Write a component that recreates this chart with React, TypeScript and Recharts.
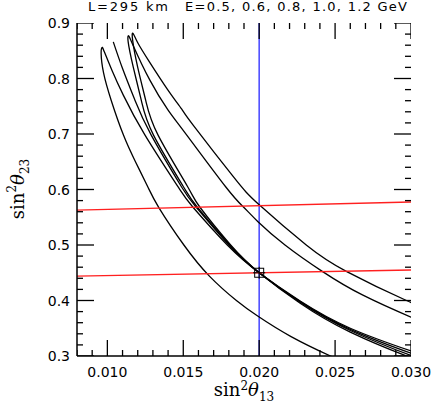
import React from "react";
import {
  ComposedChart,
  Line,
  Scatter,
  XAxis,
  YAxis,
  ReferenceLine,
  Customized,
} from "recharts";

// tick positions
const xMajor = [0.01, 0.015, 0.02, 0.025, 0.03];
const xMinor = [
  0.008, 0.009, 0.011, 0.012, 0.013, 0.014, 0.016, 0.017, 0.018, 0.019, 0.021,
  0.022, 0.023, 0.024, 0.026, 0.027, 0.028, 0.029,
];
const yMajor = [0.3, 0.4, 0.5, 0.6, 0.7, 0.8, 0.9];
const yMinor = [
  0.32, 0.34, 0.36, 0.38, 0.42, 0.44, 0.46, 0.48, 0.52, 0.54, 0.56, 0.58, 0.62,
  0.64, 0.66, 0.68, 0.72, 0.74, 0.76, 0.78, 0.82, 0.84, 0.86, 0.88,
];

// lowest energy contour: left branch up to the tip, then right branch down
const loopA = [
  { x: 0.0256, y: 0.29 },
  { x: 0.0247, y: 0.3 },
  { x: 0.0221, y: 0.335 },
  { x: 0.0199, y: 0.372 },
  { x: 0.0185, y: 0.4 },
  { x: 0.01672, y: 0.444 },
  { x: 0.01504, y: 0.5 },
  { x: 0.0134, y: 0.567 },
  { x: 0.01266, y: 0.605 },
  { x: 0.01185, y: 0.65 },
  { x: 0.01106, y: 0.698 },
  { x: 0.01026, y: 0.76 },
  { x: 0.00975, y: 0.81 },
  { x: 0.00959, y: 0.845 },
  { x: 0.00965, y: 0.856 },
  { x: 0.0098, y: 0.848 },
  { x: 0.0103, y: 0.815 },
  { x: 0.01105, y: 0.77 },
  { x: 0.01248, y: 0.698 },
  { x: 0.01465, y: 0.605 },
  { x: 0.01564, y: 0.568 },
  { x: 0.0179, y: 0.5 },
  { x: 0.02, y: 0.45 },
  { x: 0.0227, y: 0.399 },
  { x: 0.026, y: 0.35 },
  { x: 0.03, y: 0.309 },
  { x: 0.031, y: 0.3 },
];

const lineB = [
  { x: 0.01039, y: 0.866 },
  { x: 0.011, y: 0.818 },
  { x: 0.0118, y: 0.762 },
  { x: 0.01289, y: 0.698 },
  { x: 0.01488, y: 0.605 },
  { x: 0.01585, y: 0.568 },
  { x: 0.018, y: 0.5 },
  { x: 0.02, y: 0.45 },
  { x: 0.0227, y: 0.398 },
  { x: 0.026, y: 0.348 },
  { x: 0.03, y: 0.305 },
  { x: 0.031, y: 0.296 },
];

const loopC = [
  { x: 0.0311, y: 0.292 },
  { x: 0.03, y: 0.301 },
  { x: 0.026, y: 0.346 },
  { x: 0.0227, y: 0.397 },
  { x: 0.02, y: 0.45 },
  { x: 0.01806, y: 0.5 },
  { x: 0.01593, y: 0.568 },
  { x: 0.01501, y: 0.605 },
  { x: 0.01304, y: 0.698 },
  { x: 0.01224, y: 0.76 },
  { x: 0.01171, y: 0.82 },
  { x: 0.01137, y: 0.866 },
  { x: 0.0114, y: 0.877 },
  { x: 0.01169, y: 0.86 },
  { x: 0.0128, y: 0.797 },
  { x: 0.014, y: 0.743 },
  { x: 0.01523, y: 0.698 },
  { x: 0.01779, y: 0.605 },
  { x: 0.01898, y: 0.568 },
  { x: 0.01992, y: 0.542 },
  { x: 0.0217, y: 0.5 },
  { x: 0.02418, y: 0.452 },
  { x: 0.0268, y: 0.41 },
  { x: 0.03, y: 0.37 },
  { x: 0.0312, y: 0.357 },
];

const loopD = [
  { x: 0.0312, y: 0.287 },
  { x: 0.03, y: 0.297 },
  { x: 0.026, y: 0.343 },
  { x: 0.0227, y: 0.395 },
  { x: 0.02, y: 0.45 },
  { x: 0.01812, y: 0.5 },
  { x: 0.0161, y: 0.568 },
  { x: 0.01529, y: 0.605 },
  { x: 0.01334, y: 0.698 },
  { x: 0.01253, y: 0.76 },
  { x: 0.012, y: 0.82 },
  { x: 0.01166, y: 0.87 },
  { x: 0.0117, y: 0.881 },
  { x: 0.01201, y: 0.864 },
  { x: 0.01277, y: 0.83 },
  { x: 0.01397, y: 0.78 },
  { x: 0.01494, y: 0.743 },
  { x: 0.01565, y: 0.716 },
  { x: 0.01827, y: 0.624 },
  { x: 0.02002, y: 0.572 },
  { x: 0.0231, y: 0.5 },
  { x: 0.02577, y: 0.452 },
  { x: 0.0297, y: 0.4 },
  { x: 0.0312, y: 0.385 },
];

// disappearance constraint (two octants)
const redHigh = [
  { x: 0.008, y: 0.563 },
  { x: 0.03, y: 0.5775 },
];
const redLow = [
  { x: 0.008, y: 0.444 },
  { x: 0.03, y: 0.455 },
];

const truePoint = [{ x: 0.02, y: 0.45 }];

const curves = [loopA, lineB, loopC, loopD];

const X0 = 0.008;
const X1 = 0.03;
const Y0 = 0.3;
const Y1 = 0.9;

const xTicks = [...xMinor, ...xMajor].sort((a, b) => a - b);
const yTicks = [...yMinor, ...yMajor].sort((a, b) => a - b);
const isMajorX = (v: number) => Math.round(v * 1000) % 5 === 0;
const isMajorY = (v: number) => Math.round(v * 100) % 10 === 0;

// tick anchors on each side of the frame: [data, dx, dy, length]
const tickSets: [{ x: number; y: number }[], number, number, number][] = [
  [xMajor.map((v) => ({ x: v, y: Y0 })), 0, -1, 16],
  [xMinor.map((v) => ({ x: v, y: Y0 })), 0, -1, 6],
  [xMajor.map((v) => ({ x: v, y: Y1 })), 0, 1, 16],
  [xMinor.map((v) => ({ x: v, y: Y1 })), 0, 1, 6],
  [yMajor.map((v) => ({ x: X0, y: v })), 1, 0, 17],
  [yMinor.map((v) => ({ x: X0, y: v })), 1, 0, 6],
  [yMajor.map((v) => ({ x: X1, y: v })), -1, 0, 17],
  [yMinor.map((v) => ({ x: X1, y: v })), -1, 0, 6],
];

const tickShape = (dx: number, dy: number, len: number) => (props: any) => {
  const { cx, cy } = props;
  return (
    <line
      x1={cx}
      y1={cy}
      x2={cx + dx * len}
      y2={cy + dy * len}
      stroke="#000"
      strokeWidth={1.3}
    />
  );
};

function BottomLabel(props: any) {
  const { x, y, payload } = props;
  const v = payload.value;
  if (!isMajorX(v)) return <g />;
  return (
    <text x={x} y={y + 21} textAnchor="middle" fontFamily="DejaVu Sans" fontSize={14} fill="#000">
      {v.toFixed(3)}
    </text>
  );
}

function LeftLabel(props: any) {
  const { x, y, payload } = props;
  const v = payload.value;
  if (!isMajorY(v)) return <g />;
  return (
    <text x={x - 7} y={y + 5} textAnchor="end" fontFamily="DejaVu Sans" fontSize={14} fill="#000">
      {v.toFixed(1)}
    </text>
  );
}

function Marker(props: any) {
  const { cx, cy } = props;
  return (
    <g stroke="#000" strokeWidth={1} fill="none">
      <rect x={cx - 4.5} y={cy - 4.5} width={9} height={9} />
      <line x1={cx - 6} x2={cx + 6} y1={cy} y2={cy} />
      <line x1={cx} x2={cx} y1={cy - 6} y2={cy + 6} />
    </g>
  );
}

function Titles() {
  return (
    <g fill="#000">
      <text x={88} y={11} fontFamily="DejaVu Sans" fontSize={13} textLength={80} lengthAdjust="spacing">
        L=295 km
      </text>
      <text x={185} y={11} fontFamily="DejaVu Sans" fontSize={13} textLength={222} lengthAdjust="spacing">
        E=0.5, 0.6, 0.8, 1.0, 1.2 GeV
      </text>
      <text x={244} y={396} textAnchor="middle" fontFamily="DejaVu Serif" fontSize={18}>
        sin
        <tspan dy={-6} fontSize={12}>2</tspan>
        <tspan dy={6} fontStyle="italic">θ</tspan>
        <tspan dy={5} fontSize={12}>13</tspan>
      </text>
      <text
        transform="rotate(-90)"
        x={-189}
        y={24}
        textAnchor="middle"
        fontFamily="DejaVu Serif"
        fontSize={18}
      >
        sin
        <tspan dy={-8} fontSize={12}>2</tspan>
        <tspan dy={8} fontStyle="italic">θ</tspan>
        <tspan dy={5} fontSize={12}>23</tspan>
      </text>
    </g>
  );
}

export default function App() {
  return (
    <div style={{ position: "absolute", left: 0, top: 0 }}>
      <ComposedChart width={432} height={406} margin={{ top: 23, right: 21, bottom: 0, left: 0 }}>
        <ReferenceLine x={0.02} stroke="#5050ff" strokeWidth={1.6} />
        {curves.map((d, i) => (
          <Line
            key={i}
            data={d}
            dataKey="y"
            type="natural"
            stroke="#000"
            strokeWidth={1.3}
            dot={false}
            isAnimationActive={false}
          />
        ))}
        <Line data={redHigh} dataKey="y" type="linear" stroke="#ff2020" strokeWidth={1.3} dot={false} isAnimationActive={false} />
        <Line data={redLow} dataKey="y" type="linear" stroke="#ff2020" strokeWidth={1.3} dot={false} isAnimationActive={false} />
        {tickSets.map(([d, dx, dy, len], i) => (
          <Scatter key={`ticks${i}`} data={d} dataKey="y" shape={tickShape(dx, dy, len)} isAnimationActive={false} />
        ))}
        <Scatter data={truePoint} dataKey="y" shape={<Marker />} isAnimationActive={false} />
        <XAxis
          dataKey="x"
          type="number"
          domain={[X0, X1]}
          allowDataOverflow
          ticks={xTicks}
          interval={0}
          height={50}
          tick={<BottomLabel />}
          tickLine={false}
          tickSize={0}
          tickMargin={0}
          axisLine={{ stroke: "#000", strokeWidth: 1.5 }}
        />
        <XAxis
          xAxisId="top"
          orientation="top"
          type="number"
          domain={[X0, X1]}
          height={0}
          tick={false}
          tickLine={false}
          axisLine={{ stroke: "#000", strokeWidth: 1.5 }}
        />
        <YAxis
          type="number"
          domain={[Y0, Y1]}
          allowDataOverflow
          ticks={yTicks}
          interval={0}
          width={77}
          tick={<LeftLabel />}
          tickLine={false}
          tickSize={0}
          tickMargin={0}
          axisLine={{ stroke: "#000", strokeWidth: 1.5 }}
        />
        <YAxis
          yAxisId="right"
          orientation="right"
          type="number"
          domain={[Y0, Y1]}
          width={0}
          tick={false}
          tickLine={false}
          axisLine={{ stroke: "#000", strokeWidth: 1.5 }}
        />
        <Customized component={Titles} />
      </ComposedChart>
    </div>
  );
}
